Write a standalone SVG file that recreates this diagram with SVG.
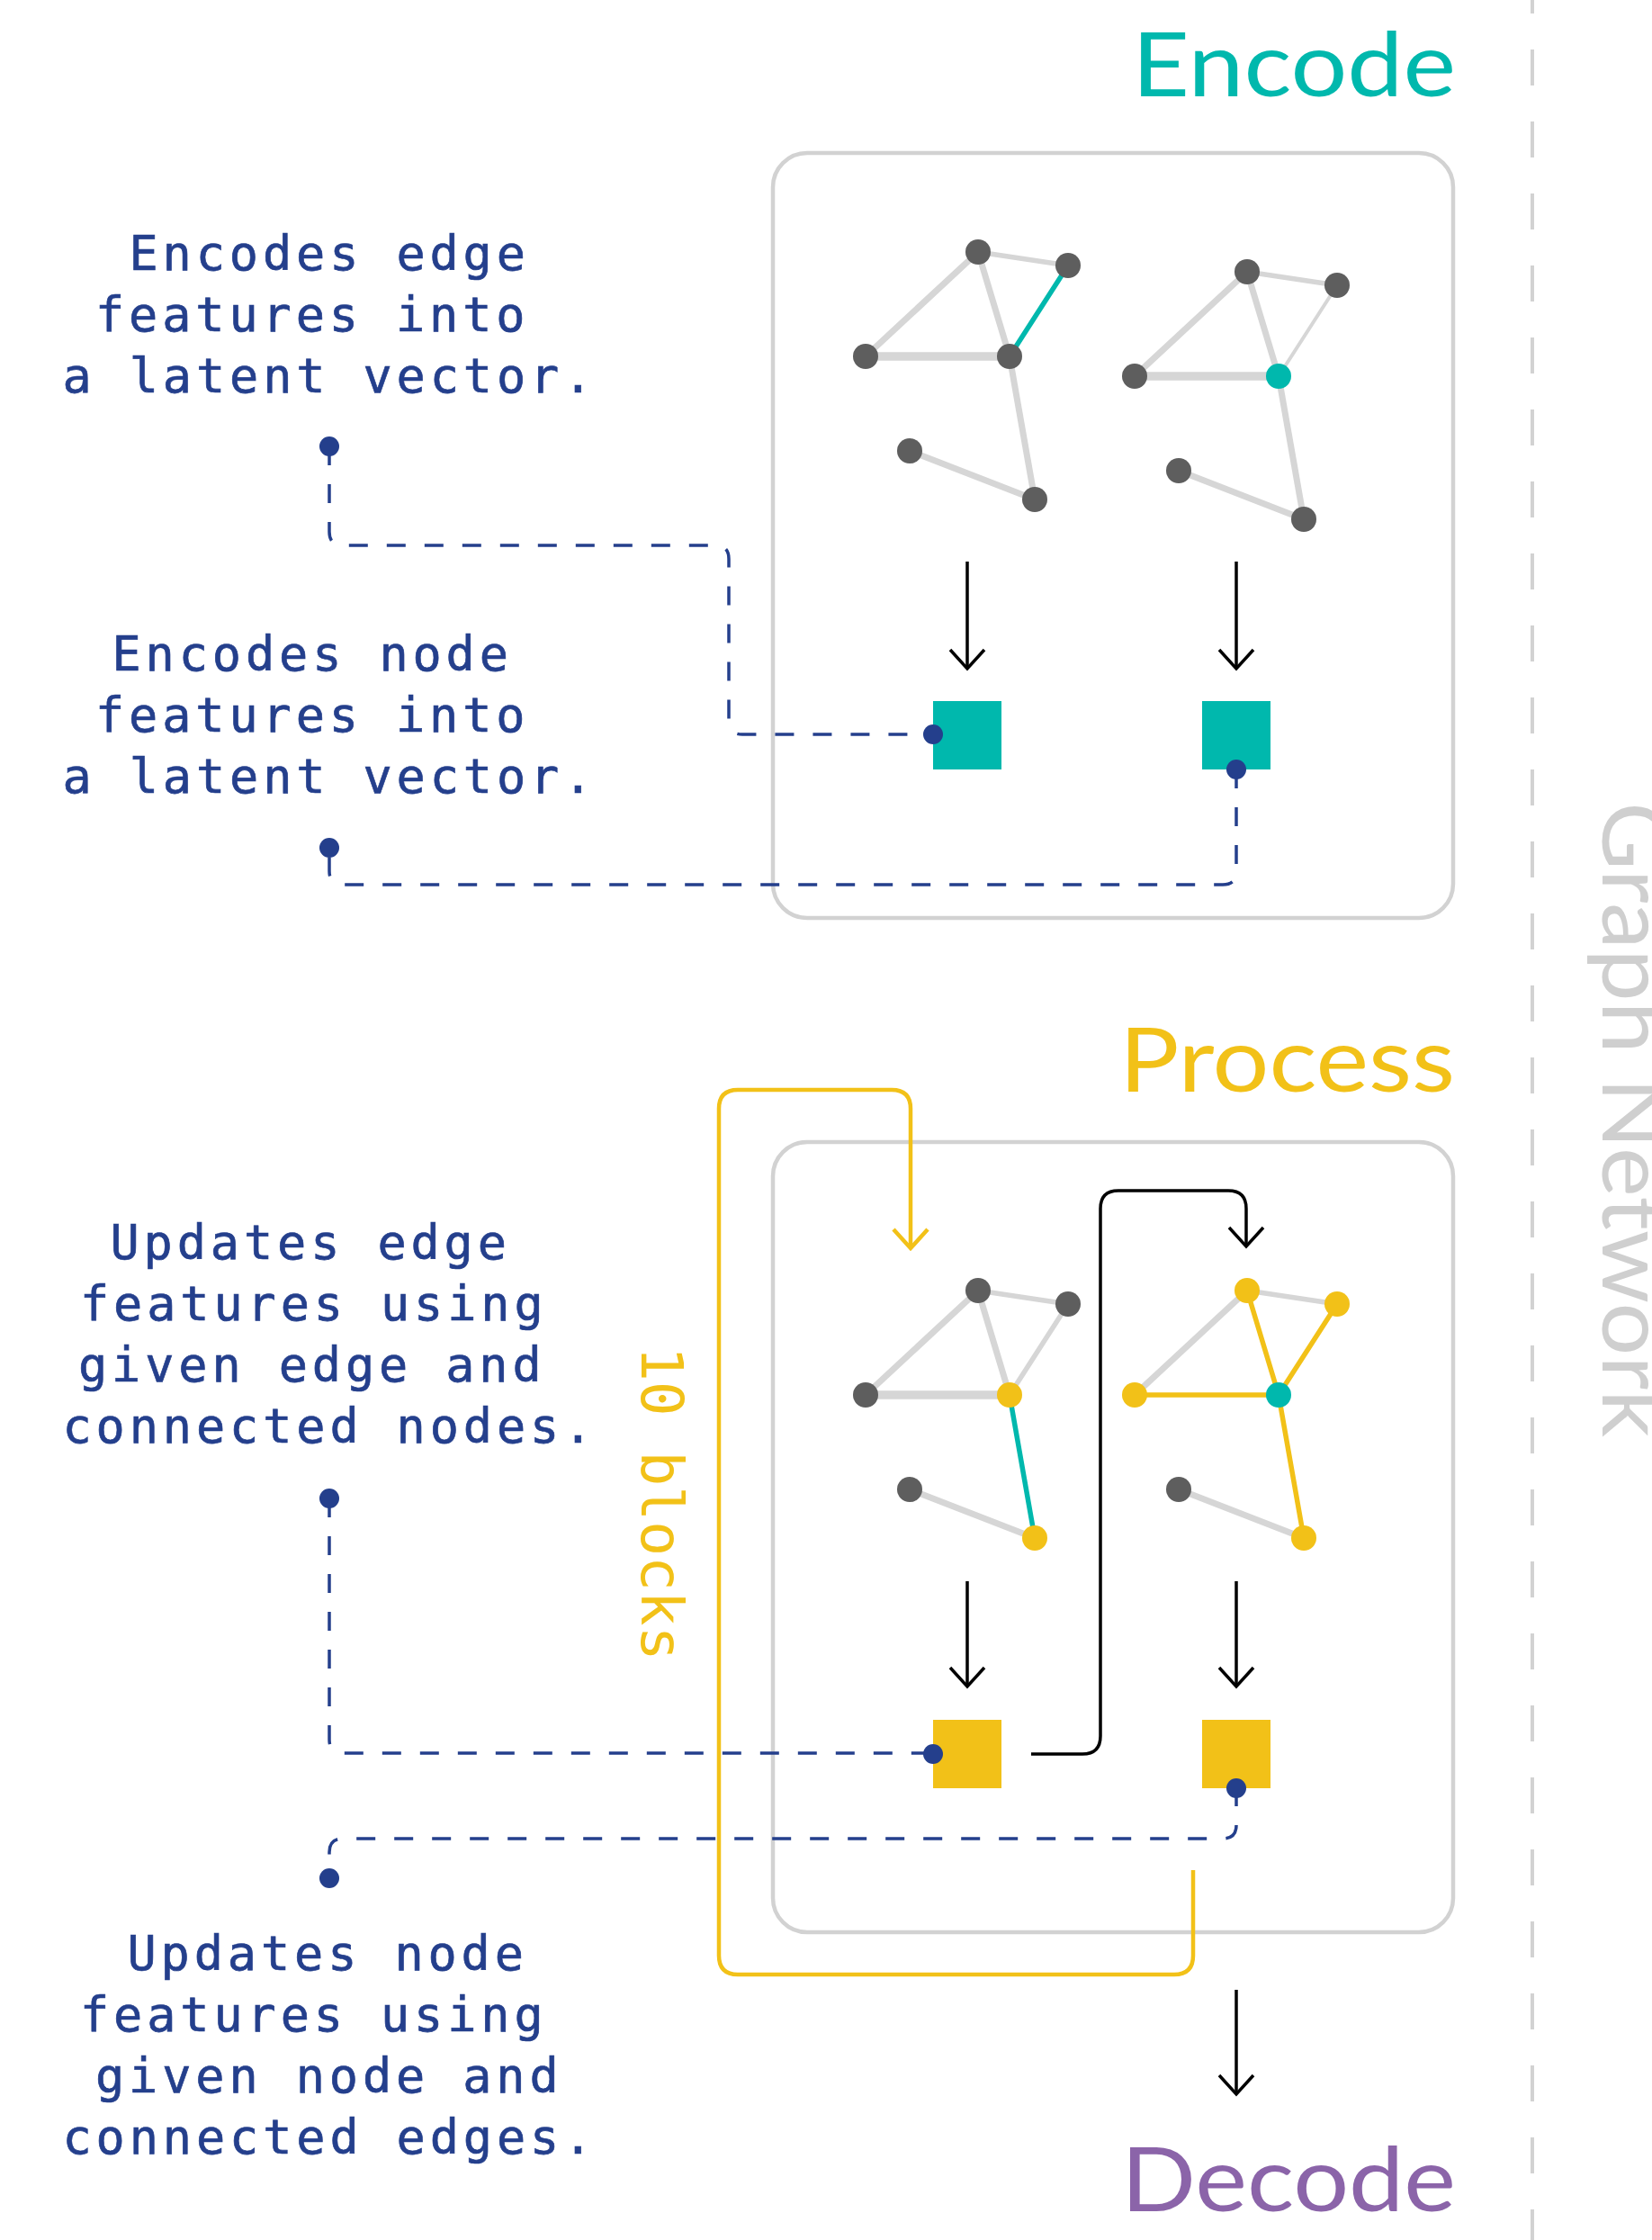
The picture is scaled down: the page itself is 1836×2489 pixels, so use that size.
<svg xmlns="http://www.w3.org/2000/svg" width="1836" height="2489" viewBox="0 0 1836 2489">
  <defs>
    <style>
      .title { font-family: Lato, "Open Sans", sans-serif; font-size: 98px; font-weight: 400; }
      .note { font-family: "DejaVu Sans Mono", "Liberation Mono", monospace; font-size: 53.5px; letter-spacing: 4.9px; fill: #243f8c; stroke: #243f8c; stroke-width: 0.7; }
      .box { fill: none; stroke: #d2d2d2; stroke-width: 4.5; }
      .edge { stroke: #d6d6d6; stroke-width: 7; stroke-linecap: round; }
      .thick { stroke-width: 9.5; }
      .thin { stroke-width: 5.5; }
      .hair { stroke-width: 4; }
      .teal-e { stroke: #00b8ad; }
      .yel-e { stroke: #f2c118; }
      .node { fill: #5e5e5e; }
      .teal { fill: #00b8ad; }
      .yel { fill: #f2c118; }
      .dash { fill: none; stroke: #243f8c; stroke-width: 3.5; stroke-dasharray: 21 21; }
      .dot { fill: #243f8c; }
      .arrow { fill: none; stroke: #000; stroke-width: 3.5; }
      .loop { fill: none; stroke: #f2c118; stroke-width: 4.5; }
    </style>
    <marker id="chev" markerUnits="userSpaceOnUse" viewBox="-24 -22 26 44" markerWidth="26" markerHeight="44" refX="0" refY="0" orient="auto" overflow="visible">
      <path d="M-21,-19 L0,0 L-21,19" fill="none" stroke="#000" stroke-width="3.5"/>
    </marker>
    <marker id="chev-y" markerUnits="userSpaceOnUse" viewBox="-24 -22 26 44" markerWidth="26" markerHeight="44" refX="0" refY="0" orient="auto" overflow="visible">
      <path d="M-21,-19 L0,0 L-21,19" fill="none" stroke="#f2c118" stroke-width="4.5"/>
    </marker>
  </defs>

  <rect width="1836" height="2489" fill="#ffffff"/>

  <!-- section divider and side label -->
  <g id="graph-network">
    <line x1="1703" y1="0" x2="1703" y2="2489" stroke="#d2d2d2" stroke-width="4" stroke-dasharray="40 40" stroke-dashoffset="25"/>
    <text class="title" fill="#cfcfcf" transform="translate(1781,891) rotate(90)" textLength="706" lengthAdjust="spacingAndGlyphs">Graph Network</text>
  </g>

  <!-- titles -->
  <g id="title-encode"><text class="title" x="1258" y="107" fill="#00b8ad" textLength="360" lengthAdjust="spacingAndGlyphs">Encode</text></g>
  <g id="title-process"><text class="title" x="1244" y="1213" fill="#f2c118" textLength="373" lengthAdjust="spacingAndGlyphs">Process</text></g>
  <g id="title-decode"><text class="title" x="1246" y="2457" fill="#8b64a9" textLength="372" lengthAdjust="spacingAndGlyphs">Decode</text></g>

  <!-- explanatory notes -->
  <g id="note-encode-edge">
    <text class="note" x="143.5" y="300">Encodes edge</text>
    <text class="note" x="106" y="368">features into</text>
    <text class="note" x="69.5" y="436">a latent vector.</text>
  </g>
  <g id="note-encode-node">
    <text class="note" x="124.5" y="745">Encodes node</text>
    <text class="note" x="106" y="813">features into</text>
    <text class="note" x="69.5" y="881">a latent vector.</text>
  </g>
  <g id="note-update-edge">
    <text class="note" x="122.5" y="1399">Updates edge</text>
    <text class="note" x="89" y="1467">features using</text>
    <text class="note" x="87" y="1535">given edge and</text>
    <text class="note" x="69.5" y="1603">connected nodes.</text>
  </g>
  <g id="note-update-node">
    <text class="note" x="141.5" y="2189">Updates node</text>
    <text class="note" x="89" y="2257">features using</text>
    <text class="note" x="106" y="2325">given node and</text>
    <text class="note" x="69.5" y="2393">connected edges.</text>
  </g>

  <!-- stage frames -->
  <g id="encode-box"><rect class="box" x="859" y="170" width="756" height="850" rx="38"/></g>
  <g id="process-box"><rect class="box" x="859" y="1269" width="756" height="878" rx="38"/></g>

  <!-- encoder graphs -->
  <g id="enc-graph-1">
    <line class="edge thin" x1="1087" y1="280" x2="1187" y2="295"/>
    <line class="edge" x1="1087" y1="280" x2="962" y2="396"/>
    <line class="edge" x1="1087" y1="280" x2="1122" y2="396"/>
    <line class="edge thick" x1="962" y1="396" x2="1122" y2="396"/>
    <line class="edge" x1="1122" y1="396" x2="1150" y2="555"/>
    <line class="edge" x1="1011" y1="501" x2="1150" y2="555"/>
    <line class="edge thin teal-e" x1="1122" y1="396" x2="1187" y2="295"/>
    <circle class="node" cx="1087" cy="280" r="14"/>
    <circle class="node" cx="1187" cy="295" r="14"/>
    <circle class="node" cx="962" cy="396" r="14"/>
    <circle class="node" cx="1122" cy="396" r="14"/>
    <circle class="node" cx="1011" cy="501" r="14"/>
    <circle class="node" cx="1150" cy="555" r="14"/>
  </g>
  <g id="enc-graph-2" transform="translate(299,22)">
    <line class="edge thin" x1="1087" y1="280" x2="1187" y2="295"/>
    <line class="edge" x1="1087" y1="280" x2="962" y2="396"/>
    <line class="edge" x1="1087" y1="280" x2="1122" y2="396"/>
    <line class="edge thick" x1="962" y1="396" x2="1122" y2="396"/>
    <line class="edge" x1="1122" y1="396" x2="1150" y2="555"/>
    <line class="edge" x1="1011" y1="501" x2="1150" y2="555"/>
    <line class="edge hair" x1="1122" y1="396" x2="1187" y2="295"/>
    <circle class="node" cx="1087" cy="280" r="14"/>
    <circle class="node" cx="1187" cy="295" r="14"/>
    <circle class="node" cx="962" cy="396" r="14"/>
    <circle class="teal" cx="1122" cy="396" r="14"/>
    <circle class="node" cx="1011" cy="501" r="14"/>
    <circle class="node" cx="1150" cy="555" r="14"/>
  </g>

  <!-- processor graphs -->
  <g id="proc-graph-1" transform="translate(0,1154)">
    <line class="edge thin" x1="1087" y1="280" x2="1187" y2="295"/>
    <line class="edge" x1="1087" y1="280" x2="962" y2="396"/>
    <line class="edge" x1="1087" y1="280" x2="1122" y2="396"/>
    <line class="edge thick" x1="962" y1="396" x2="1122" y2="396"/>
    <line class="edge thin" x1="1122" y1="396" x2="1187" y2="295"/>
    <line class="edge" x1="1011" y1="501" x2="1150" y2="555"/>
    <line class="edge thin teal-e" x1="1122" y1="396" x2="1150" y2="555"/>
    <circle class="node" cx="1087" cy="280" r="14"/>
    <circle class="node" cx="1187" cy="295" r="14"/>
    <circle class="node" cx="962" cy="396" r="14"/>
    <circle class="yel" cx="1122" cy="396" r="14"/>
    <circle class="node" cx="1011" cy="501" r="14"/>
    <circle class="yel" cx="1150" cy="555" r="14"/>
  </g>
  <g id="proc-graph-2" transform="translate(299,1154)">
    <line class="edge thin" x1="1087" y1="280" x2="1187" y2="295"/>
    <line class="edge" x1="1087" y1="280" x2="962" y2="396"/>
    <line class="edge" x1="1011" y1="501" x2="1150" y2="555"/>
    <line class="edge thin yel-e" x1="1087" y1="280" x2="1122" y2="396"/>
    <line class="edge thin yel-e" x1="962" y1="396" x2="1122" y2="396"/>
    <line class="edge thin yel-e" x1="1122" y1="396" x2="1187" y2="295"/>
    <line class="edge thin yel-e" x1="1122" y1="396" x2="1150" y2="555"/>
    <circle class="yel" cx="1087" cy="280" r="14"/>
    <circle class="yel" cx="1187" cy="295" r="14"/>
    <circle class="yel" cx="962" cy="396" r="14"/>
    <circle class="teal" cx="1122" cy="396" r="14"/>
    <circle class="node" cx="1011" cy="501" r="14"/>
    <circle class="yel" cx="1150" cy="555" r="14"/>
  </g>

  <!-- connectors -->
  <g id="connectors">
    <!-- encoder: graph to latent -->
    <line class="arrow" x1="1075" y1="624" x2="1075" y2="743" marker-end="url(#chev)"/>
    <line class="arrow" x1="1374" y1="624" x2="1374" y2="743" marker-end="url(#chev)"/>
    <!-- processor: graph to latent -->
    <line class="arrow" x1="1075" y1="1757" x2="1075" y2="1874" marker-end="url(#chev)"/>
    <line class="arrow" x1="1374" y1="1757" x2="1374" y2="1874" marker-end="url(#chev)"/>
    <!-- edge update feeds node update -->
    <path class="arrow" d="M1146,1949 H1203 Q1223,1949 1223,1929 V1343 Q1223,1323 1243,1323 H1365 Q1385,1323 1385,1343 V1385" marker-end="url(#chev)"/>
    <!-- processor to decoder -->
    <line class="arrow" x1="1374" y1="2211" x2="1374" y2="2327" marker-end="url(#chev)"/>
    <!-- repeated message-passing blocks -->
    <path class="loop" d="M1326,2078 V2173 Q1326,2194 1305,2194 H820 Q799,2194 799,2173 V1232 Q799,1211 820,1211 H991 Q1012,1211 1012,1232 V1387" marker-end="url(#chev-y)"/>
    <!-- note leaders -->
    <path class="dash" d="M366,496 V591 Q366,606 381,606 H795 Q810,606 810,621 V801 Q810,816 825,816 H1037"/>
    <path class="dash" d="M1374,855 V968 Q1374,983 1359,983 H381 Q366,983 366,968 V942"/>
    <path class="dash" d="M366,1665 V1933 Q366,1948 381,1948 H1037"/>
    <path class="dash" d="M1374,1986 V2028 Q1374,2043 1359,2043 H381 Q366,2043 366,2058 V2087"/>
  </g>

  <!-- latent vectors -->
  <g id="enc-edge-latent"><rect x="1037" y="779" width="76" height="76" fill="#00b8ad"/></g>
  <g id="enc-node-latent"><rect x="1336" y="779" width="76" height="76" fill="#00b8ad"/></g>
  <g id="proc-edge-latent"><rect x="1037" y="1911" width="76" height="76" fill="#f2c118"/></g>
  <g id="proc-node-latent"><rect x="1336" y="1911" width="76" height="76" fill="#f2c118"/></g>

  <!-- leader end points -->
  <g id="leader-dots">
    <circle class="dot" cx="366" cy="496" r="11"/>
    <circle class="dot" cx="366" cy="942" r="11"/>
    <circle class="dot" cx="366" cy="1665" r="11"/>
    <circle class="dot" cx="366" cy="2087" r="11"/>
    <circle class="dot" cx="1037" cy="816" r="11"/>
    <circle class="dot" cx="1374" cy="855" r="11"/>
    <circle class="dot" cx="1037" cy="1949" r="11"/>
    <circle class="dot" cx="1374" cy="1987" r="11"/>
  </g>

  <!-- loop count -->
  <g id="loop-label">
    <text transform="translate(713,1496) rotate(90)" font-family="'DejaVu Sans Mono', 'Liberation Mono', monospace" font-size="64.5" fill="#f2c118">10 blocks</text>
  </g>
</svg>
